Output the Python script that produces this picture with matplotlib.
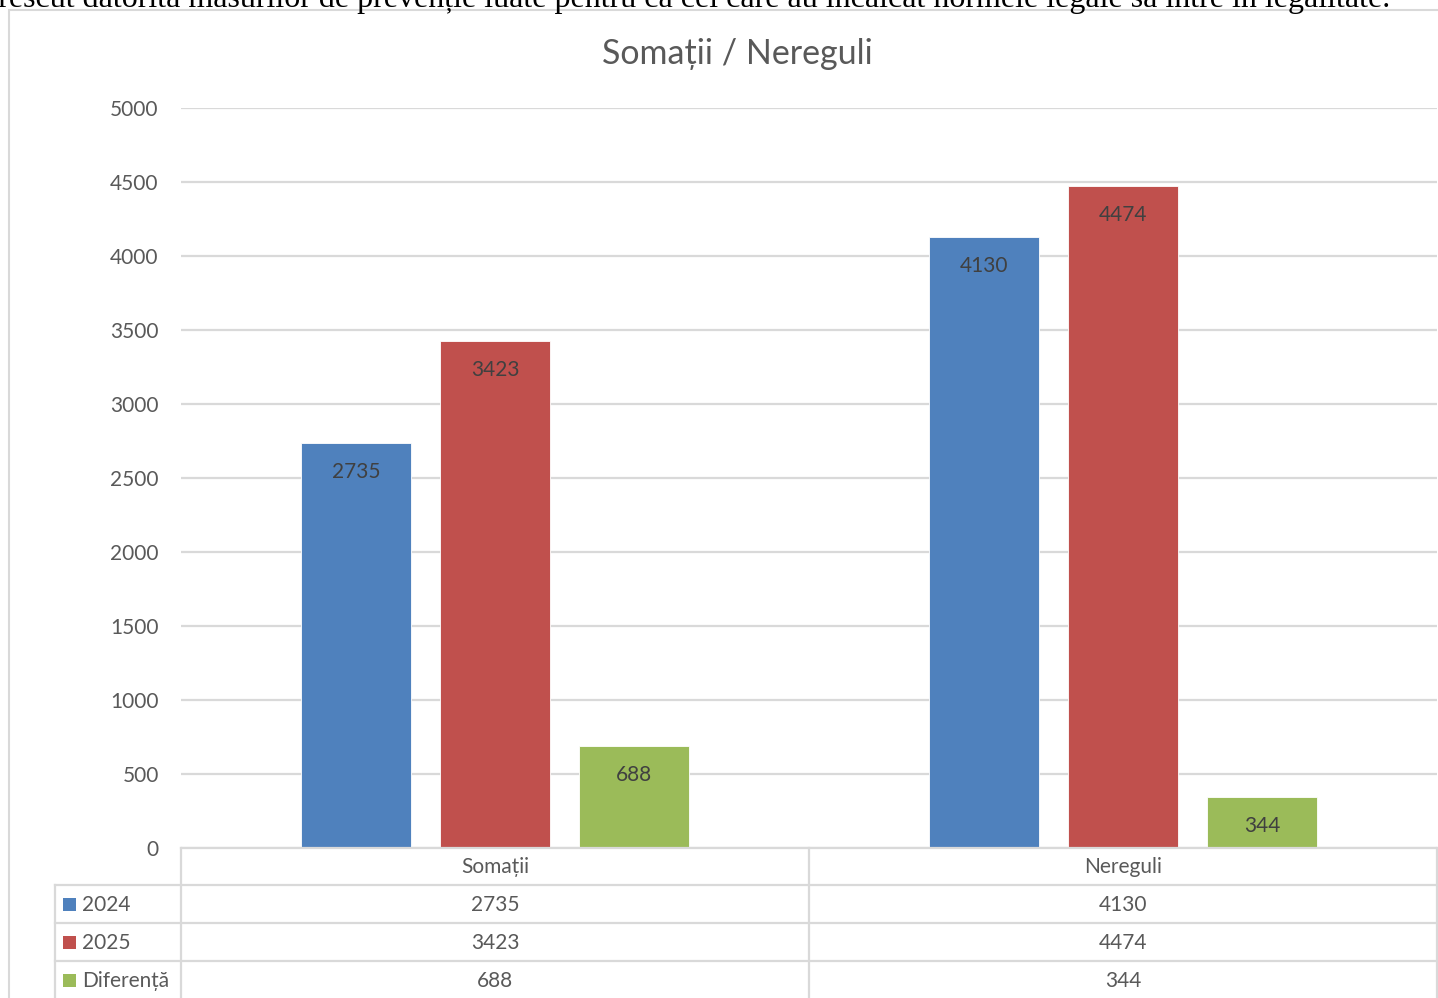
import numpy as np
import matplotlib
matplotlib.use("Agg")
import matplotlib.pyplot as plt
from matplotlib.patches import Rectangle
from matplotlib.lines import Line2D
import matplotlib.transforms as mtransforms

categories = ["Somații", "Nereguli"]
series_names = ["2024", "2025", "Diferență"]
values_2024 = [2735, 4130]
values_2025 = [3423, 4474]
values_diff = [688, 344]
series_values = [values_2024, values_2025, values_diff]
series_colors = ["#4F81BD", "#C0504D", "#9BBB59"]
yticks = [0, 500, 1000, 1500, 2000, 2500, 3000, 3500, 4000, 4500, 5000]

title = "Somații / Nereguli"
caption = ("crescut datorită măsurilor de prevenție luate pentru ca cei care au "
           "încălcat normele legale să intre în legalitate.")

W, H = 1438, 998
plt.rcParams["font.family"] = ["Lato", "DejaVu Sans"]
text_col = "#595959"
grid_col = "#D9D9D9"
fs = 15

fig = plt.figure(figsize=(W / 100, H / 100), dpi=100)


def fx(x):
    return x / W


def fy(y):
    return 1 - y / H


# paragraph text running above the chart object
fig.text(fx(1390), fy(7), caption, ha="right", va="baseline",
         family="Liberation Serif", fontsize=23, color="black")

# chart frame
fig.patches.append(Rectangle((fx(9), fy(1200)), fx(1500), fy(10) - fy(1200),
                             transform=fig.transFigure, fill=False,
                             edgecolor=grid_col, linewidth=1.5))

ax = fig.add_axes([fx(181), fy(848), fx(1437) - fx(181), fy(108) - fy(848)])
ax.set_xlim(0, 2)
ax.set_ylim(0, 5000)
for s in ax.spines.values():
    s.set_visible(False)
ax.set_xticks([])
ax.set_yticks(yticks)
ax.set_yticklabels([str(t) for t in yticks], fontsize=fs, color=text_col)
ax.tick_params(axis="y", length=0, pad=16)
ax.yaxis.grid(True, color=grid_col, linewidth=1.6)
ax.set_axisbelow(True)

centers = np.array([0.5, 1.5])
width = 0.175
step = 0.2213
for i, (vals, col) in enumerate(zip(series_values, series_colors)):
    xs = centers + (i - 1) * step
    ax.bar(xs, vals, width=width, color=col, edgecolor="white", linewidth=0.6)
    for x, v in zip(xs, vals):
        ax.annotate(str(v), (x, v), xytext=(0, -29), textcoords="offset pixels",
                    ha="center", va="center", fontsize=fs, color="#404040")

fig.text(fx(737), fy(54), title, ha="center", va="center",
         fontsize=24.5, color=text_col)

# data table under the plot
def hline(y, x0, x1):
    fig.add_artist(Line2D([fx(x0), fx(x1)], [fy(y), fy(y)],
                          transform=fig.transFigure, color=grid_col, lw=1.6))


def vline(x, y0, y1):
    fig.add_artist(Line2D([fx(x), fx(x)], [fy(y0), fy(y1)],
                          transform=fig.transFigure, color=grid_col, lw=1.6))


hline(848, 181, 1437)
for y in (885, 923, 961):
    hline(y, 55, 1437)
vline(55, 885, 1000)
for x in (181, 809, 1437):
    vline(x, 848, 1000)

col_tr = mtransforms.blended_transform_factory(ax.transData, fig.transFigure)
for c, name in zip(centers, categories):
    fig.text(c, fy(867), name, transform=col_tr, ha="center", va="center",
             fontsize=fs, color=text_col)

row_y = [905, 943, 981]
for ry, name, vals, col in zip(row_y, series_names, series_values, series_colors):
    fig.patches.append(Rectangle((fx(63), fy(ry + 6)), fx(13), fy(ry - 7) - fy(ry + 6),
                                 transform=fig.transFigure, facecolor=col,
                                 edgecolor="none"))
    fig.text(fx(82), fy(ry), name, ha="left", va="center", fontsize=fs,
             color=text_col)
    for c, v in zip(centers, vals):
        fig.text(c, fy(ry), str(v), transform=col_tr, ha="center", va="center",
                 fontsize=fs, color=text_col)

fig.savefig("out.png", dpi=100)
